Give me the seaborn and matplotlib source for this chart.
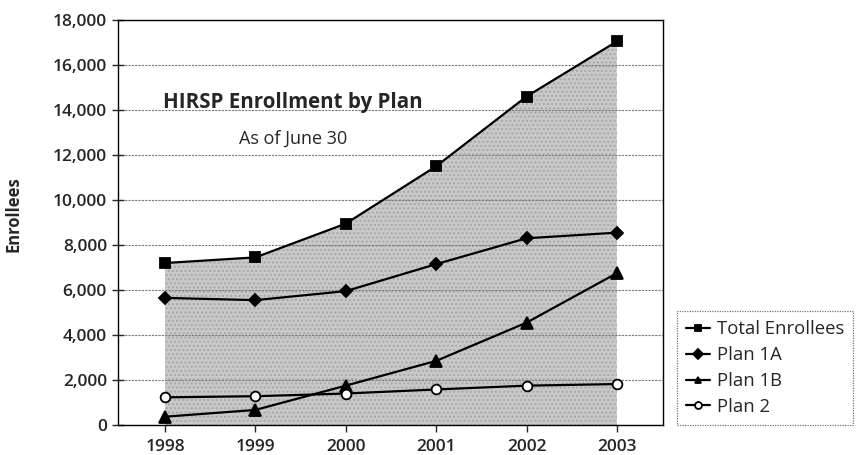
import matplotlib
matplotlib.use("Agg")
import matplotlib.pyplot as plt
import seaborn as sns
import pandas as pd
from matplotlib.ticker import FuncFormatter

# Data (enrollees as of June 30)
YEARS = [1998, 1999, 2000, 2001, 2002, 2003]
TOTAL = [7200, 7450, 8950, 11500, 14600, 17050]
PLAN_1A = [5650, 5550, 5950, 7150, 8300, 8550]
PLAN_1B = [370, 670, 1750, 2850, 4550, 6750]
PLAN_2 = [1230, 1280, 1400, 1580, 1750, 1820]

SERIES = ["Total Enrollees", "Plan 1A", "Plan 1B", "Plan 2"]
MARKERS = {"Total Enrollees": "s", "Plan 1A": "D", "Plan 1B": "^", "Plan 2": "o"}
SIZES = {"Total Enrollees": 7.5, "Plan 1A": 6, "Plan 1B": 8, "Plan 2": 7}

df = pd.DataFrame({
    "Year": YEARS * 4,
    "Enrollees": TOTAL + PLAN_1A + PLAN_1B + PLAN_2,
    "Series": [s for s in SERIES for _ in YEARS],
})

sns.set_theme(style="white")
plt.rcParams["font.family"] = ["Open Sans", "DejaVu Sans"]

fig = plt.figure(figsize=(8.59, 4.55), dpi=100)
ax = fig.add_axes([0.1374, 0.0659, 0.6344, 0.8901])

# shaded area under the total
ax.fill_between(YEARS, TOTAL, 0, color="#c9c9c9", edgecolor="#a8a8a8",
                hatch="....", linewidth=0, zorder=0.4)

for name in SERIES:
    sub = df[df["Series"] == name]
    face = "white" if name == "Plan 2" else "black"
    sns.lineplot(data=sub, x="Year", y="Enrollees", ax=ax, color="black",
                 linewidth=1.6, marker=MARKERS[name], markersize=SIZES[name],
                 markerfacecolor=face, markeredgecolor="black",
                 markeredgewidth=1.3, label=name, zorder=3)

ax.set_xlim(1997.48, 2003.51)
ax.set_ylim(0, 18000)
ax.set_xticks(YEARS)
ax.set_yticks(range(0, 18001, 2000))
ax.yaxis.set_major_formatter(FuncFormatter(lambda v, p: f"{int(v):,}"))
ax.set_xlabel("")
ax.set_ylabel("Enrollees", fontsize=12, fontweight="bold")
ax.yaxis.set_label_coords(-0.175, 0.52)

ax.set_axisbelow(True)
ax.grid(axis="y", color="#7a7a7a", linewidth=0.8, linestyle=(0, (2, 1)))
ax.grid(axis="x", visible=False)
for sp in ax.spines.values():
    sp.set_color("black")
    sp.set_linewidth(1.0)

ax.tick_params(axis="y", direction="inout", length=8, width=1, labelsize=12.5,
               pad=4, left=True)
ax.tick_params(axis="x", direction="out", length=5, width=1, labelsize=12.5,
               pad=5, bottom=True)
for lab in ax.get_xticklabels() + ax.get_yticklabels():
    lab.set_fontweight("semibold")

ax.text(0.321, 0.797, "HIRSP Enrollment by Plan", transform=ax.transAxes,
        ha="center", va="center", fontsize=14.8, fontweight="bold")
ax.text(0.321, 0.707, "As of June 30", transform=ax.transAxes,
        ha="center", va="center", fontsize=13)

leg = ax.legend(loc="lower left", bbox_to_anchor=(0.788, 0.066),
                bbox_transform=fig.transFigure, borderaxespad=0,
                fontsize=13.3, handlelength=1.3, handletextpad=0.35,
                labelspacing=0.42, borderpad=0.5, frameon=True, fancybox=False)
leg.get_frame().set_edgecolor("#555555")
leg.get_frame().set_linewidth(0.9)
leg.get_frame().set_linestyle((0, (1, 1)))
for h in leg.legend_handles:
    h.set_markersize(5)

fig.savefig("out.png", dpi=100)
